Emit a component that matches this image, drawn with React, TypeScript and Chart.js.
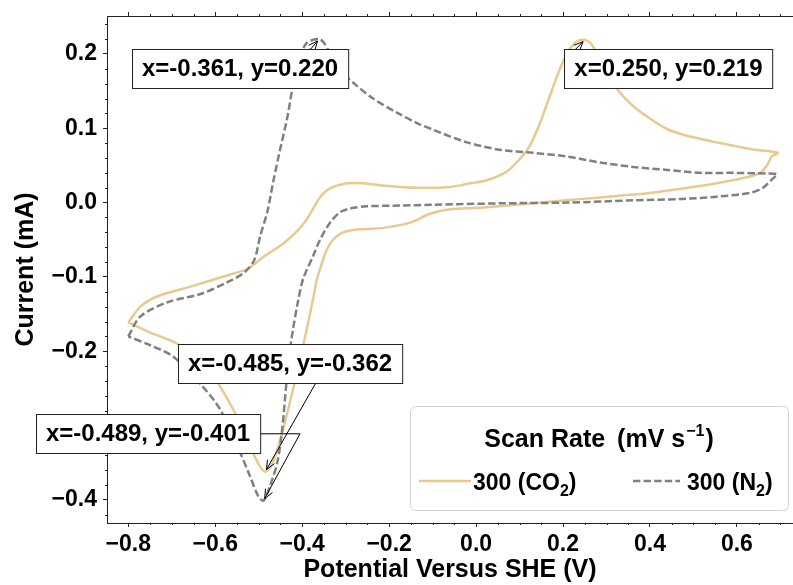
import React, { useEffect, useRef } from 'react';
import { Chart, registerables } from 'chart.js';

Chart.register(...registerables);

// ---------- data ----------
const co2Potential = [
  -0.800, -0.772, -0.733, -0.657, -0.579, -0.526, -0.487, -0.441, -0.395, -0.359,
  -0.336, -0.297, -0.260, -0.214, -0.136, -0.060, -0.014, 0.025, 0.071, 0.101,
  0.124, 0.147, 0.170, 0.193, 0.216, 0.232, 0.250, 0.264, 0.285, 0.308,
  0.331, 0.361, 0.400, 0.439, 0.485, 0.554, 0.630, 0.694, 0.680, 0.669,
  0.653, 0.623, 0.554, 0.476, 0.400, 0.324, 0.246, 0.170, 0.090, 0.009,
  -0.060, -0.106, -0.152, -0.214, -0.267, -0.306, -0.329, -0.343, -0.352, -0.366,
  -0.375, -0.398, -0.421, -0.444, -0.467, -0.485, -0.503, -0.536, -0.559, -0.589,
  -0.618, -0.657, -0.697, -0.749, -0.800,
];
const co2Current = [
  -0.161, -0.140, -0.126, -0.113, -0.099, -0.089, -0.072, -0.054, -0.027, 0.007,
  0.019, 0.026, 0.026, 0.023, 0.020, 0.021, 0.026, 0.030, 0.042, 0.059,
  0.077, 0.107, 0.144, 0.180, 0.207, 0.217, 0.219, 0.214, 0.193, 0.166,
  0.148, 0.130, 0.113, 0.099, 0.090, 0.081, 0.072, 0.067, 0.062, 0.050,
  0.040, 0.034, 0.026, 0.019, 0.013, 0.009, 0.005, 0.001, -0.003, -0.007,
  -0.009, -0.015, -0.027, -0.034, -0.036, -0.040, -0.050, -0.063, -0.077, -0.103,
  -0.130, -0.193, -0.251, -0.305, -0.349, -0.362, -0.349, -0.305, -0.278, -0.247,
  -0.220, -0.201, -0.187, -0.175, -0.161,
];
const n2Potential = [
  -0.800, -0.772, -0.710, -0.634, -0.572, -0.533, -0.510, -0.497, -0.480, -0.467,
  -0.451, -0.434, -0.421, -0.405, -0.389, -0.361, -0.350, -0.336, -0.306, -0.274,
  -0.237, -0.182, -0.136, -0.099, -0.021, 0.055, 0.131, 0.209, 0.285, 0.361,
  0.439, 0.515, 0.591, 0.669, 0.692, 0.680, 0.660, 0.630, 0.554, 0.476,
  0.361, 0.209, 0.055, -0.099, -0.175, -0.251, -0.290, -0.313, -0.336, -0.359,
  -0.375, -0.398, -0.411, -0.421, -0.432, -0.439, -0.446, -0.457, -0.474, -0.489,
  -0.501, -0.520, -0.543, -0.589, -0.634, -0.697, -0.749, -0.800,
];
const n2Current = [
  -0.180, -0.153, -0.134, -0.123, -0.107, -0.094, -0.077, -0.046, -0.012, 0.027,
  0.071, 0.115, 0.158, 0.196, 0.215, 0.220, 0.215, 0.201, 0.174, 0.157,
  0.140, 0.121, 0.107, 0.098, 0.081, 0.071, 0.067, 0.062, 0.054, 0.048,
  0.044, 0.040, 0.040, 0.039, 0.038, 0.031, 0.020, 0.013, 0.008, 0.005,
  0.003, 0.000, -0.001, -0.003, -0.004, -0.005, -0.008, -0.013, -0.027, -0.050,
  -0.072, -0.103, -0.137, -0.170, -0.215, -0.260, -0.305, -0.349, -0.381, -0.401,
  -0.395, -0.368, -0.336, -0.278, -0.244, -0.207, -0.192, -0.180,
];

const seriesLabels = ['300 (CO', '300 (N'];
const seriesSub = ['2', '2'];
const legendTitleA = 'Scan Rate';
const legendTitleB = '(mV s';
const legendTitleSup = '\u22121';

const xTickValues = [-0.8, -0.6, -0.4, -0.2, 0.0, 0.2, 0.4, 0.6];
const yTickValues = [-0.4, -0.3, -0.2, -0.1, 0.0, 0.1, 0.2];
const xMin = -0.849;
const xMax = 0.729;
const yMin = -0.431;
const yMax = 0.251;

const annotationText = ['x=-0.361, y=0.220', 'x=0.250, y=0.219', 'x=-0.485, y=-0.362', 'x=-0.489, y=-0.401'];
const annotationPointX = [-0.361, 0.250, -0.485, -0.489];
const annotationPointY = [0.220, 0.219, -0.362, -0.401];
const annotationTextX = [-0.543, 0.4425, -0.428, -0.7546];
const annotationTextY = [0.180, 0.180, -0.2163, -0.311];
const arrowBendX = [-0.380, 0.2275, -0.343, -0.405];
const arrowBendY = [0.2068, 0.2054, -0.2163, -0.311];

const TAN = 'rgb(232,202,145)';
const GRAY = 'rgb(128,128,128)';
const FONT = '"Liberation Sans", Arial, Helvetica, sans-serif';
const AXIS_COLOR = '#222';

const fmtTick = (v: number) => Number(v).toFixed(1).replace('-', '\u2212');

function arrowHead(ctx: CanvasRenderingContext2D, fx: number, fy: number, tx: number, ty: number) {
  const ang = Math.atan2(ty - fy, tx - fx);
  const len = 9;
  const half = 4;
  const bx = tx - len * Math.cos(ang);
  const by = ty - len * Math.sin(ang);
  const nx = -Math.sin(ang);
  const ny = Math.cos(ang);
  ctx.beginPath();
  ctx.moveTo(bx + nx * half, by + ny * half);
  ctx.lineTo(tx, ty);
  ctx.lineTo(bx - nx * half, by - ny * half);
  ctx.stroke();
}

const overlayPlugin = {
  id: 'overlay',
  afterDraw(chart: any) {
    const { ctx, chartArea, scales } = chart;
    const xs = scales.x;
    const ys = scales.y;
    ctx.save();

    // minor ticks
    ctx.strokeStyle = AXIS_COLOR;
    ctx.lineWidth = 1;
    ctx.beginPath();
    for (let k = -17; k <= 14; k++) {
      const v = k * 0.05;
      if (k % 4 === 0) continue;
      if (v < xMin || v > xMax) continue;
      const px = Math.round(xs.getPixelForValue(v)) + 0.5;
      ctx.moveTo(px, chartArea.bottom);
      ctx.lineTo(px, chartArea.bottom + 2);
      ctx.moveTo(px, chartArea.top);
      ctx.lineTo(px, chartArea.top - 2);
    }
    for (let k = -21; k <= 12; k++) {
      const v = k * 0.02;
      if (k % 5 === 0) continue;
      if (v < yMin || v > yMax) continue;
      const py = Math.round(ys.getPixelForValue(v)) + 0.5;
      ctx.moveTo(chartArea.left, py);
      ctx.lineTo(chartArea.left - 2, py);
    }
    ctx.stroke();

    // annotations: arrows then boxes
    ctx.font = `bold 24px ${FONT}`;
    for (let i = 0; i < annotationText.length; i++) {
      const cx = xs.getPixelForValue(annotationTextX[i]);
      const cy = ys.getPixelForValue(annotationTextY[i]);
      const bx = xs.getPixelForValue(arrowBendX[i]);
      const by = ys.getPixelForValue(arrowBendY[i]);
      const px = xs.getPixelForValue(annotationPointX[i]);
      const py = ys.getPixelForValue(annotationPointY[i]);
      const d = Math.hypot(px - bx, py - by);
      const shrink = 2.5;
      const tx = px - ((px - bx) / d) * shrink;
      const ty = py - ((py - by) / d) * shrink;
      ctx.strokeStyle = '#000';
      ctx.lineWidth = 1;
      ctx.beginPath();
      ctx.moveTo(cx, cy);
      ctx.lineTo(bx, by);
      ctx.lineTo(tx, ty);
      ctx.stroke();
      arrowHead(ctx, bx, by, tx, ty);
    }
    for (let i = 0; i < annotationText.length; i++) {
      const cx = xs.getPixelForValue(annotationTextX[i]);
      const cy = ys.getPixelForValue(annotationTextY[i]);
      const w = ctx.measureText(annotationText[i]).width + 20;
      const h = 39;
      const left = Math.round(cx - w / 2) + 0.5;
      const top = Math.round(cy - h / 2) + 0.5;
      ctx.fillStyle = '#fff';
      ctx.fillRect(left, top, w, h);
      ctx.strokeStyle = '#222';
      ctx.lineWidth = 1;
      ctx.strokeRect(left, top, w, h);
      ctx.fillStyle = '#000';
      ctx.textAlign = 'center';
      ctx.textBaseline = 'middle';
      ctx.fillText(annotationText[i], cx, cy + 1);
    }

    // legend frame
    const lx = 410.5, ly = 406.5, lw = 378, lh = 104;
    ctx.beginPath();
    (ctx as any).roundRect(lx, ly, lw, lh, 5);
    ctx.fillStyle = 'rgba(255,255,255,0.85)';
    ctx.fill();
    ctx.strokeStyle = '#d4d4d4';
    ctx.lineWidth = 1;
    ctx.stroke();

    // legend title with superscript
    ctx.textAlign = 'left';
    ctx.textBaseline = 'alphabetic';
    ctx.fillStyle = '#000';
    const titleFont = `bold 25px ${FONT}`;
    const supFont = `bold 16px ${FONT}`;
    ctx.font = titleFont;
    const wA = ctx.measureText(legendTitleA).width;
    const wGap = ctx.measureText(' ').width + 5;
    const wB = ctx.measureText(legendTitleB).width;
    const wClose = ctx.measureText(')').width;
    ctx.font = supFont;
    const wSup = ctx.measureText(legendTitleSup).width;
    const total = wA + wGap + wB + 1 + wSup + 1 + wClose;
    let tx = 599 - total / 2;
    const tb = 447;
    ctx.font = titleFont;
    ctx.fillText(legendTitleA, tx, tb);
    tx += wA + wGap;
    ctx.fillText(legendTitleB, tx, tb);
    tx += wB + 1;
    ctx.font = supFont;
    ctx.fillText(legendTitleSup, tx, tb - 11);
    tx += wSup + 1;
    ctx.font = titleFont;
    ctx.fillText(')', tx, tb);

    // legend entries
    const entries = [
      { x0: 419, x1: 471, tx: 473, color: TAN, dash: [] as number[] },
      { x0: 633, x1: 680, tx: 687, color: GRAY, dash: [7.4, 3.2] },
    ];
    entries.forEach((e, i) => {
      ctx.strokeStyle = e.color;
      ctx.lineWidth = 2.5;
      ctx.setLineDash(e.dash);
      ctx.beginPath();
      ctx.moveTo(e.x0, 481);
      ctx.lineTo(e.x1, 481);
      ctx.stroke();
      ctx.setLineDash([]);
      ctx.fillStyle = '#000';
      ctx.font = `bold 23px ${FONT}`;
      ctx.fillText(seriesLabels[i], e.tx, 490);
      let ox = e.tx + ctx.measureText(seriesLabels[i]).width;
      ctx.font = `bold 16px ${FONT}`;
      ctx.fillText(seriesSub[i], ox, 496);
      ox += ctx.measureText(seriesSub[i]).width;
      ctx.font = `bold 23px ${FONT}`;
      ctx.fillText(')', ox, 490);
    });

    ctx.restore();
  },
};

const tickFont = { family: FONT, size: 23, weight: 'bold' as const };
const titleFont = { family: FONT, size: 25, weight: 'bold' as const, lineHeight: 1.2 };

function xAxis(position: 'bottom' | 'top') {
  return {
    type: 'linear' as const,
    position,
    min: xMin,
    max: xMax,
    bounds: 'data' as const,
    afterBuildTicks: (s: any) => {
      s.ticks = xTickValues.map((v) => ({ value: v }));
    },
    ticks: {
      display: position === 'bottom',
      callback: (v: any) => fmtTick(v),
      font: tickFont,
      color: '#000',
      padding: 4,
      autoSkip: false,
      maxRotation: 0,
      minRotation: 0,
    },
    grid: {
      drawOnChartArea: false,
      drawTicks: true,
      tickLength: 4,
      tickColor: AXIS_COLOR,
      tickWidth: 1,
    },
    border: { display: true, color: AXIS_COLOR, width: 1 },
    title: {
      display: position === 'bottom',
      text: 'Potential Versus SHE (V)',
      font: titleFont,
      color: '#000',
      padding: { top: 0, bottom: 0 },
    },
    afterFit: (s: any) => {
      s.height = position === 'bottom' ? 62 : 16;
      s.paddingLeft = 0;
      s.paddingRight = 0;
    },
  };
}

export default function App() {
  const ref = useRef<HTMLCanvasElement>(null);
  useEffect(() => {
    const canvas = ref.current;
    if (!canvas) return;
    const chart = new Chart(canvas, {
      type: 'scatter',
      data: {
        datasets: [
          {
            label: '300 (CO\u2082)',
            data: co2Potential.map((v, i) => ({ x: v, y: co2Current[i] })),
            showLine: true,
            borderColor: TAN,
            backgroundColor: TAN,
            borderWidth: 2.5,
            pointRadius: 0,
            tension: 0.3,
            order: 1,
          },
          {
            label: '300 (N\u2082)',
            data: n2Potential.map((v, i) => ({ x: v, y: n2Current[i] })),
            showLine: true,
            borderColor: GRAY,
            backgroundColor: GRAY,
            borderWidth: 2.5,
            borderDash: [7.4, 3.2],
            pointRadius: 0,
            tension: 0.3,
            order: 0,
          },
        ],
      },
      options: {
        responsive: false,
        animation: false,
        devicePixelRatio: 1,
        layout: { padding: 0 },
        plugins: {
          legend: { display: false },
          tooltip: { enabled: false },
        },
        scales: {
          x: xAxis('bottom'),
          xTop: xAxis('top'),
          y: {
            type: 'linear',
            position: 'left',
            min: yMin,
            max: yMax,
            bounds: 'data',
            afterBuildTicks: (s: any) => {
              s.ticks = yTickValues.map((v) => ({ value: v }));
            },
            ticks: {
              callback: (v: any) => fmtTick(v),
              font: tickFont,
              color: '#000',
              padding: 6,
              autoSkip: false,
            },
            grid: {
              drawOnChartArea: false,
              drawTicks: true,
              tickLength: 4,
              tickColor: AXIS_COLOR,
              tickWidth: 1,
            },
            border: { display: true, color: AXIS_COLOR, width: 1 },
            title: {
              display: true,
              text: 'Current (mA)',
              font: titleFont,
              color: '#000',
              padding: { top: 11, bottom: 0 },
            },
            afterFit: (s: any) => {
              s.width = 107;
              s.paddingTop = 0;
              s.paddingBottom = 0;
            },
          },
        },
      } as any,
      plugins: [overlayPlugin],
    });
    return () => chart.destroy();
  }, []);

  return (
    <div style={{ position: 'absolute', left: 0, top: 0, width: 793, height: 585, background: '#fff' }}>
      <canvas ref={ref} width={793} height={585} style={{ display: 'block', width: 793, height: 585 }} />
    </div>
  );
}
